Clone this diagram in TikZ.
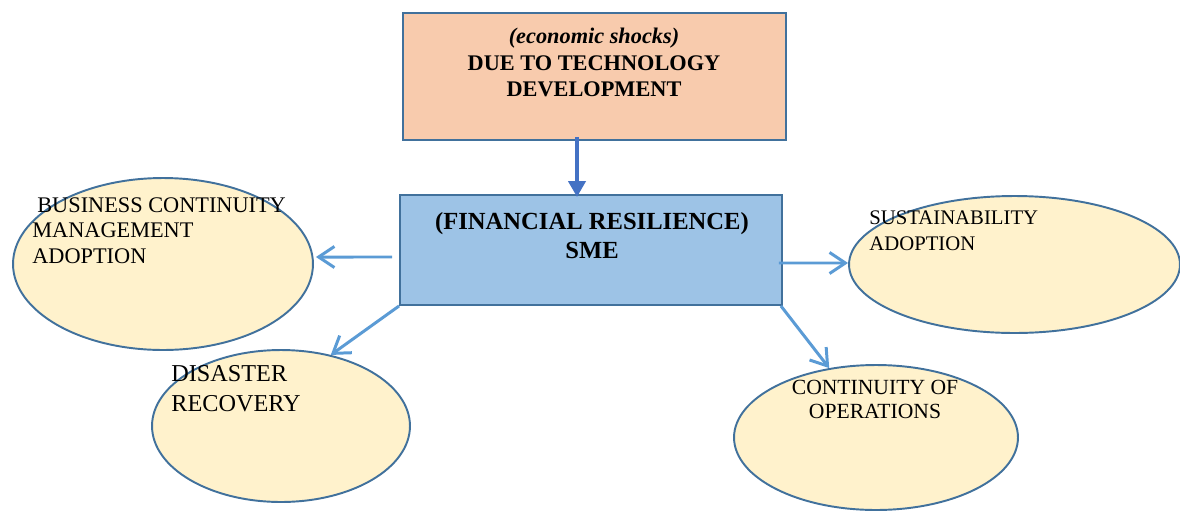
\documentclass[tikz,border=0pt]{standalone}
\usepackage{fontspec}
\setmainfont{Liberation Serif}
\usetikzlibrary{shapes.geometric,arrows.meta}
\definecolor{peach}{HTML}{F8CBAD}
\definecolor{skyfill}{HTML}{9DC3E6}
\definecolor{cream}{HTML}{FFF2CC}
\definecolor{edgeblue}{HTML}{41719C}
\definecolor{linkblue}{HTML}{5B9BD5}
\definecolor{darklink}{HTML}{4472C4}

\begin{document}
\begin{tikzpicture}
[ x=0.02cm, y=-0.02cm
, box/.style={rectangle, draw=edgeblue, line width=1.1pt, inner sep=0pt}
, bubble/.style={ellipse, draw=edgeblue, fill=cream, line width=1.1pt, inner sep=0pt}
, caption/.style={inner sep=0pt, font=\fontsize{12.7}{14.5}\selectfont}
, headline/.style={inner sep=0pt, align=center, font=\bfseries}
, link/.style={draw=linkblue, line width=1.7pt, -{Straight Barb[length=9pt, width=12pt]}}
, push/.style={draw=darklink, line width=2.6pt, -{Triangle[length=0.32cm, width=0.34cm]}}
]
\useasboundingbox (0,0) rectangle (1180,511);
% Boxes:
\node (shock) [box, fill=peach, minimum width=7.66cm, minimum height=2.54cm] at (594.5,76.5) {};
\node (sme) [box, fill=skyfill, minimum width=7.64cm, minimum height=2.2cm] at (591,250) {};
% Ellipses:
\node (bcm) [bubble, minimum width=6cm, minimum height=3.44cm] at (163,264) {};
\node (disaster) [bubble, minimum width=5.16cm, minimum height=3.04cm] at (281,426) {};
\node (sustain) [bubble, minimum width=6.62cm, minimum height=2.74cm] at (1014.5,264.5) {};
\node (contin) [bubble, minimum width=5.68cm, minimum height=2.9cm] at (876,437.5) {};
% Texts:
\node (shocktext) [headline, anchor=north, font=\fontsize{12.7}{15}\selectfont\bfseries] at (594,28)
  {\textit{(economic shocks)}\\DUE TO TECHNOLOGY\\DEVELOPMENT};
\node (smetext) [headline, anchor=north, font=\fontsize{14}{16.4}\selectfont\bfseries] at (592,212)
  {(FINANCIAL RESILIENCE)\\SME};
\node (bcmtext) [caption, align=left, anchor=north west] at (32,197)
  {\hspace*{0.1cm}BUSINESS CONTINUITY\\MANAGEMENT\\ADOPTION};
\node (disastertext) [caption, align=left, anchor=north west, font=\fontsize{13.8}{17}\selectfont] at (171,365)
  {DISASTER\\RECOVERY};
\node (sustaintext) [caption, align=left, anchor=north west, font=\fontsize{11.8}{14.8}\selectfont] at (869,210)
  {SUSTAINABILITY\\ADOPTION};
\node (contintext) [caption, align=center, anchor=north, font=\fontsize{12.3}{13.6}\selectfont] at (875,380)
  {CONTINUITY OF\\OPERATIONS};
% Arrows:
\draw [push] ([xshift=-0.35cm]shock.south) ++(0,-4) -- ([xshift=-0.35cm, yshift=-0.06cm]shock.south |- sme.north);
\draw [link] ([xshift=-0.14cm, yshift=-0.14cm]sme.west) -- ([xshift=0.04cm, yshift=0.14cm]bcm.east);
\draw [link] (sme.south west) -- (disaster.55);
\draw [link] ([xshift=-0.08cm, yshift=-0.26cm]sme.east) -- ([yshift=0.03cm]sustain.west);
\draw [link] ([xshift=-0.04cm]sme.south east) -- (contin.124);
\end{tikzpicture}
\end{document}
